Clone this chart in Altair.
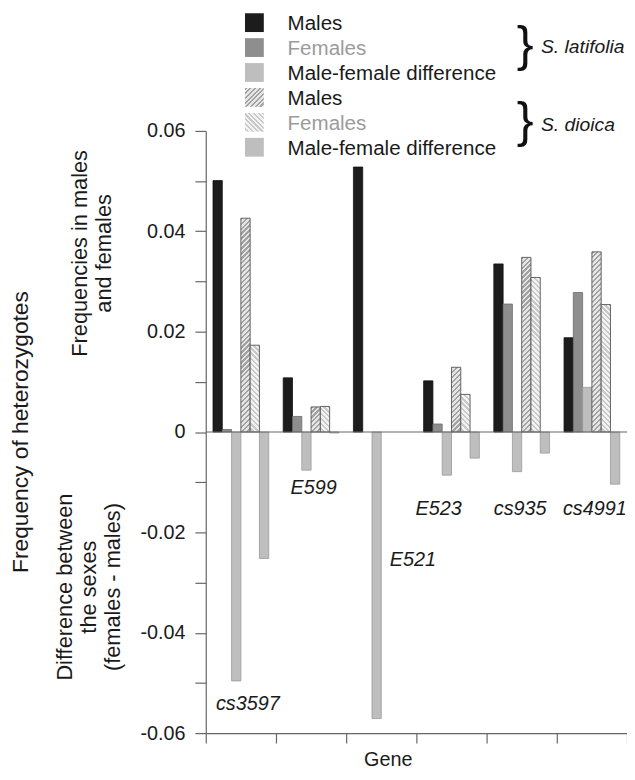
import altair as alt
import pandas as pd

# ---------------- data ----------------
genes = ["cs3597", "E599", "E521", "E523", "cs935", "cs4991"]

lat_males = [0.0501, 0.0108, 0.0528, 0.0102, 0.0335, 0.0188]
lat_females = [0.0005, 0.0031, 0.0, 0.0016, 0.0255, 0.0278]
lat_diff = [-0.0496, -0.0076, -0.0571, -0.0086, -0.0079, 0.0089]
dio_males = [0.0426, 0.0050, 0.0, 0.0129, 0.0348, 0.0359]
dio_females = [0.0173, 0.0051, 0.0, 0.0075, 0.0308, 0.0254]
dio_diff = [-0.0252, -0.0002, 0.0, -0.0052, -0.0042, -0.0104]

series_keys = ["LM", "LF", "LD", "DM", "DF", "DD"]
series_labels = ["Males", "Females", "Male-female difference",
                 "Males", "Females", "Male-female difference"]
species_names = ["S. latifolia", "S. dioica"]
gene_label_y = [-0.0553, -0.0124, -0.0266, -0.0166, -0.0166, -0.0166]
y_tick_values = [round(i * 0.01, 2) for i in range(-6, 7)]

series_values = [lat_males, lat_females, lat_diff, dio_males, dio_females, dio_diff]
rows = []
for key, vals in zip(series_keys, series_values):
    for g, v in zip(genes, vals):
        if v != 0:
            rows.append({"gene": g, "series": key, "value": v})
df = pd.DataFrame(rows)
labels_df = pd.DataFrame({"gene": genes, "value": gene_label_y, "label": genes})

# ---------------- styles ----------------
FONT = "Liberation Sans"
TEXT = "#1a1a1a"
W, H = 426, 609
Y_MIN, Y_MAX = -0.06, 0.06
PAD_OUTER = 0.78
band = W / len(genes)
bar_w = band / (len(series_keys) + 2 * PAD_OUTER)
px_per_unit = H / (Y_MAX - Y_MIN)

fill_colors = ["#1c1c1c", "#8e8e8e", "#bebebe", "#cfcfcf", "#e6e6e6", "#bebebe"]
stroke_colors = ["#111111", "#6a6a6a", "#9a9a9a", "#555555", "#6a6a6a", "#9a9a9a"]
legend_text_colors = [TEXT, "#9b9b9b", TEXT, TEXT, "#9b9b9b", TEXT]
hatch_style = {
    "DM": ("/", "#a2a2a2", "#e6e6e6"),
    "DF": ("\\", "#c8c8c8", "#f3f3f3"),
}
label_dx = {"cs3597": 7, "E599": 2.5, "E521": 32, "E523": -13, "cs935": -1.5, "cs4991": 3}


def stripes(w, h, direction, dark, light, spacing=5.0, frac=0.45):
    k = w / h
    s = (1 + k) / (1 + k * k)
    if direction == "/":
        x1, y1, x2, y2 = 0, 0, k * s, s
    else:
        x1, y1, x2, y2 = 1, 0, 1 - k * s, s
    n = max(1, int(round((w + h) / spacing)))
    dt = 1.0 / n
    stops = []
    for i in range(n):
        t0 = i * dt
        a = min(t0 + frac * dt, 1.0)
        b = min(t0 + dt, 1.0)
        stops += [
            {"offset": round(t0, 5), "color": dark},
            {"offset": round(a, 5), "color": dark},
            {"offset": round(a, 5), "color": light},
            {"offset": round(b, 5), "color": light},
        ]
    return {"gradient": "linear", "x1": x1, "y1": y1, "x2": x2, "y2": y2, "stops": stops}


Y_LABEL_EXPR = (
    "(abs(round(datum.value * 100)) % 2 == 1) ? '' : "
    "(datum.value == 0 ? '0' : (datum.value < 0 ? '-' : '') + format(abs(datum.value), '.2f'))"
)

x_enc = alt.X(
    "gene:N", sort=genes,
    scale=alt.Scale(domain=genes, paddingInner=0, paddingOuter=0),
    axis=alt.Axis(labels=False, tickBand="extent", tickSize=10, domainColor="#666666",
                  tickColor="#666666", domainWidth=1.2, tickWidth=1.2, grid=False,
                  title="Gene", titleFont=FONT, titleFontSize=20, titleFontWeight="normal",
                  titleColor=TEXT, titleX=184, titleY=33, titleAlign="center",
                  titleBaseline="alphabetic"),
)
xoff = alt.XOffset(
    "series:N", sort=series_keys,
    scale=alt.Scale(domain=series_keys, paddingInner=0, paddingOuter=PAD_OUTER),
)
y_enc = alt.Y(
    "value:Q",
    scale=alt.Scale(domain=[Y_MIN, Y_MAX], nice=False, zero=False),
    axis=alt.Axis(values=y_tick_values, labelExpr=Y_LABEL_EXPR, tickSize=11, labelPadding=10,
                  labelFont=FONT, labelFontSize=20, labelColor=TEXT,
                  domainColor="#666666", tickColor="#666666", domainWidth=1.2, tickWidth=1.2,
                  grid=False, title="Frequency of heterozygotes", titleFont=FONT,
                  titleFontSize=23, titleFontWeight="normal", titleColor=TEXT,
                  titleX=-187, titleY=304, titleAngle=270, titleAlign="center",
                  titleBaseline="middle"),
)

base = alt.Chart(df)
layers = []

# solid bars
layers.append(
    base.transform_filter(
        alt.FieldOneOfPredicate(field="series", oneOf=["LM", "LF", "LD", "DD"])
    ).mark_bar(strokeWidth=0.8).encode(
        x=x_enc, xOffset=xoff, y=y_enc,
        fill=alt.Fill("series:N", scale=alt.Scale(domain=series_keys, range=fill_colors), legend=None),
        stroke=alt.Stroke("series:N", scale=alt.Scale(domain=series_keys, range=stroke_colors), legend=None),
    )
)

# hatched bars (S. dioica males / females)
for key, vals in (("DM", dio_males), ("DF", dio_females)):
    direction, dark, light = hatch_style[key]
    for g, v in zip(genes, vals):
        if v == 0:
            continue
        grad = stripes(bar_w, abs(v) * px_per_unit, direction, dark, light)
        layers.append(
            base.transform_filter(
                (alt.datum.series == key) & (alt.datum.gene == g)
            ).mark_bar(fill=grad, stroke="#555555", strokeWidth=0.9).encode(
                x=x_enc, xOffset=xoff, y=y_enc,
            )
        )

# zero line
layers.append(
    alt.Chart(pd.DataFrame({"value": [0.0]})).mark_rule(color="#666666", strokeWidth=1.2).encode(y=y_enc)
)

# gene labels
for g in genes:
    layers.append(
        alt.Chart(labels_df).transform_filter(alt.datum.gene == g).mark_text(
            dx=label_dx[g], font=FONT, fontSize=20, fontStyle="italic", align="center",
            baseline="alphabetic", color=TEXT,
        ).encode(x=x_enc, y=y_enc, text="label:N")
    )

# y-axis sub titles
layers.append(
    alt.Chart(pd.DataFrame({"value": [0.0356]})).mark_text(
        text=["Frequencies in males", "and females"], angle=270, font=FONT, fontSize=22,
        lineHeight=24, align="center", baseline="middle", color=TEXT,
    ).encode(y=y_enc, x=alt.value(-127))
)
layers.append(
    alt.Chart(pd.DataFrame({"value": [-0.0309]})).mark_text(
        text=["Difference between", "the sexes", "(females - males)"], angle=270, font=FONT,
        fontSize=22, lineHeight=24, align="center", baseline="middle", color=TEXT,
    ).encode(y=y_enc, x=alt.value(-142))
)

# legend (drawn as marks: swatches + labels)
one = pd.DataFrame({"k": [0]})
for i, key in enumerate(series_keys):
    cy = -109.5 + 25.2 * i
    if key in hatch_style:
        direction, dark, light = hatch_style[key]
        sw_fill = stripes(19, 19, direction, dark, light, spacing=4.8)
    else:
        sw_fill = fill_colors[i]
    layers.append(
        alt.Chart(one).mark_square(size=361, fill=sw_fill, opacity=1, strokeWidth=0).encode(
            x=alt.value(49.2), y=alt.value(cy))
    )
    layers.append(
        alt.Chart(one).mark_text(text=series_labels[i], font=FONT, fontSize=20.8, align="left",
                                 baseline="alphabetic", color=legend_text_colors[i]).encode(
            x=alt.value(82.7), y=alt.value(cy + 7.4))
    )

# braces and species names
for by, sy, name in ((-70.8, -79, species_names[0]), (6.2, 0, species_names[1])):
    layers.append(
        alt.Chart(one).mark_text(text="}", font=FONT, fontSize=51, align="center",
                                 baseline="alphabetic", color="#111111").encode(
            x=alt.value(323), y=alt.value(by))
    )
    layers.append(
        alt.Chart(one).mark_text(text=name, font=FONT, fontSize=19.5, fontStyle="italic",
                                 align="left", baseline="alphabetic", color=TEXT).encode(
            x=alt.value(339), y=alt.value(sy))
    )

chart = alt.layer(*layers).properties(
    width=W, height=H,
    autosize=alt.AutoSizeParams(type="none"),
    padding={"left": 200, "top": 120, "right": 0, "bottom": 35},
    background="white",
).configure_view(strokeWidth=0).configure_text(font=FONT)

chart.save("out.html", embed_options={"renderer": "svg", "actions": False})
